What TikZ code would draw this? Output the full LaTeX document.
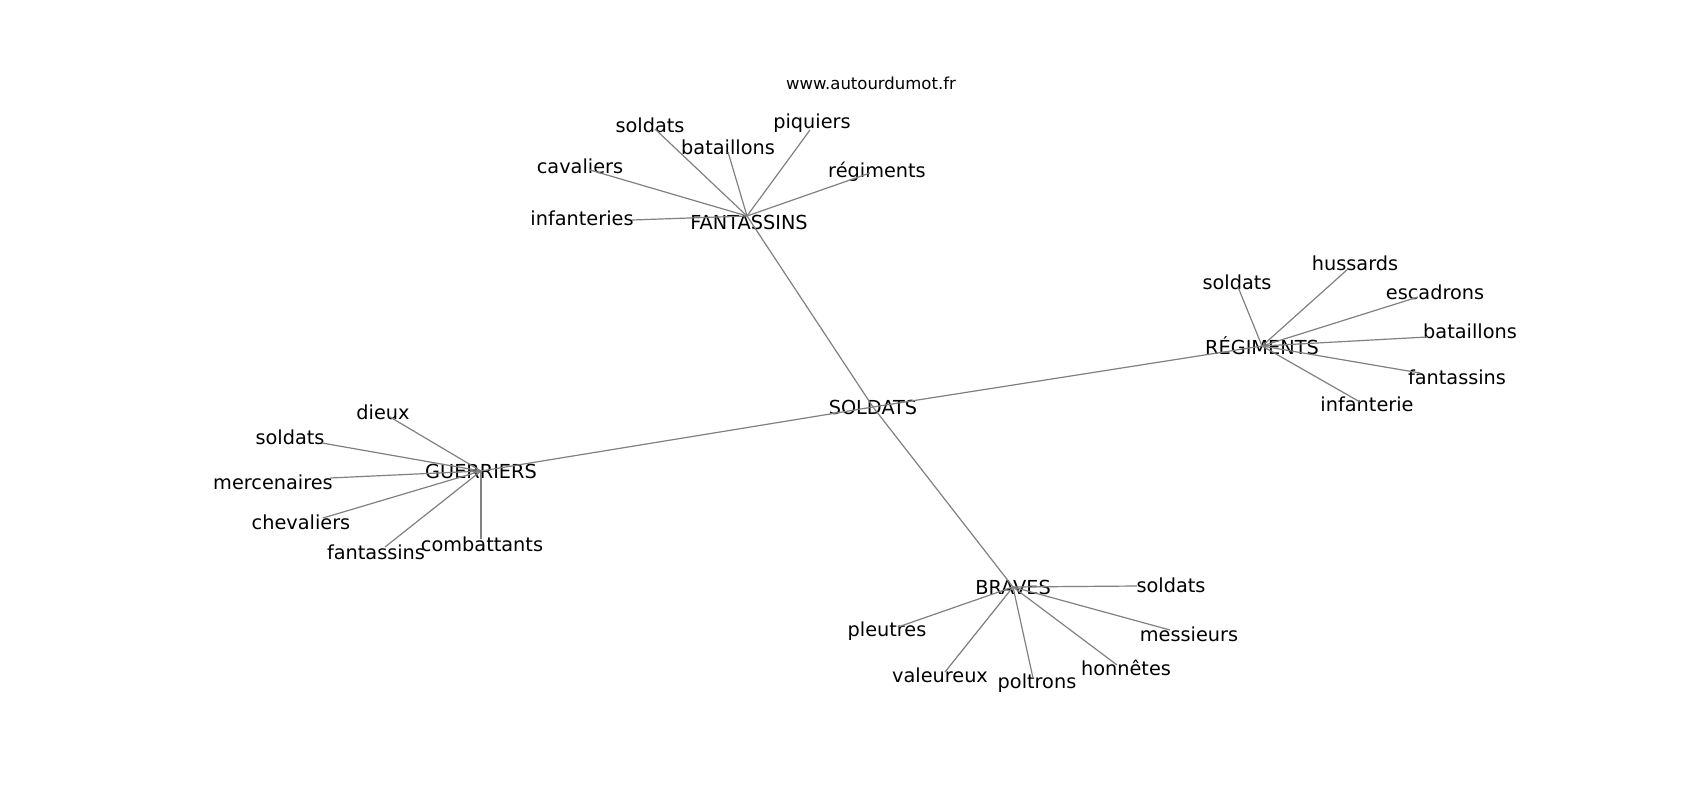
\documentclass[tikz,border=0pt]{standalone}
\usepackage{fontspec}
\setmainfont{DejaVu Sans}

\begin{document}
\begin{tikzpicture}[
  x=1pt, y=-1pt,
  word/.style={inner sep=0pt, font=\fontsize{19.3}{23}\selectfont},
  site/.style={inner sep=0pt, font=\fontsize{16.5}{20}\selectfont},
  edge/.style={draw=gray, line width=1.2pt}
]
\useasboundingbox (0,0) rectangle (1700,800);

\node[site] (url) at (871,83) {www.autourdumot.fr};

% Hubs
\node[word] (soldats) at (873,407) {SOLDATS};
\node[word] (fant) at (749,222) {FANTASSINS};
\coordinate (fant-c) at (747,216);
\node[word] (regi) at (1262,346) {RÉGIMENTS};
\node[word] (guer) at (481,471) {GUERRIERS};
\node[word] (braves) at (1013,587) {BRAVES};

% Top: around FANTASSINS
\node[word] (fsoldats) at (650,125) {soldats};
\node[word] (fbataillons) at (728,147) {bataillons};
\node[word] (fpiquiers) at (812,123) {piquiers};
\node[word] (fcavaliers) at (580,166) {cavaliers};
\node[word] (finfanteries) at (582,218) {infanteries};
\node[word] (fregiments) at (877,172) {régiments};
\coordinate (fsoldats-e) at (655,129);
\coordinate (fbataillons-e) at (728,152);
\coordinate (fpiquiers-e) at (810,130);
\coordinate (fcavaliers-e) at (590,170);
\coordinate (finfanteries-e) at (632,220);
\coordinate (fregiments-e) at (870,173);

% Right: around RÉGIMENTS
\node[word] (rsoldats) at (1237,282) {soldats};
\node[word] (rhussards) at (1355,263) {hussards};
\node[word] (rescadrons) at (1435,292) {escadrons};
\node[word] (rbataillons) at (1470,331) {bataillons};
\node[word] (rfantassins) at (1457,377) {fantassins};
\node[word] (rinfanterie) at (1367,404) {infanterie};
\coordinate (rsoldats-e) at (1238,287);
\coordinate (rhussards-e) at (1348,269);
\coordinate (rescadrons-e) at (1418,297);
\coordinate (rbataillons-e) at (1427,337);
\coordinate (rfantassins-e) at (1420,373);
\coordinate (rinfanterie-e) at (1360,402);

% Left: around GUERRIERS
\node[word] (gdieux) at (383,412) {dieux};
\node[word] (gsoldats) at (290,437) {soldats};
\node[word] (gmercenaires) at (273,482) {mercenaires};
\node[word] (gchevaliers) at (301,522) {chevaliers};
\node[word] (gfantassins) at (376,552) {fantassins};
\node[word] (gcombattants) at (482,544) {combattants};
\coordinate (gdieux-e) at (390,417);
\coordinate (gsoldats-e) at (322,443);
\coordinate (gmercenaires-e) at (330,478);
\coordinate (gchevaliers-e) at (323,518);
\coordinate (gfantassins-e) at (385,547);
\coordinate (gcombattants-e) at (481,539);

% Bottom: around BRAVES
\node[word] (bsoldats) at (1171,585) {soldats};
\node[word] (bpleutres) at (887,631) {pleutres};
\node[word] (bvaleureux) at (940,675) {valeureux};
\node[word] (bpoltrons) at (1037,683) {poltrons};
\node[word] (bhonnetes) at (1126,668) {honnêtes};
\node[word] (bmessieurs) at (1189,634) {messieurs};
\coordinate (bsoldats-e) at (1137,586);
\coordinate (bpleutres-e) at (898,627);
\coordinate (bvaleureux-e) at (945,672);
\coordinate (bpoltrons-e) at (1033,678);
\coordinate (bhonnetes-e) at (1117,665);
\coordinate (bmessieurs-e) at (1170,630);

\draw[edge] (soldats.center) -- (fant-c);
\draw[edge] (soldats.center) -- (regi.center);
\draw[edge] (soldats.center) -- (guer.center);
\draw[edge] (soldats.center) -- (braves.center);

\draw[edge] (fant-c) -- (fsoldats-e);
\draw[edge] (fant-c) -- (fbataillons-e);
\draw[edge] (fant-c) -- (fpiquiers-e);
\draw[edge] (fant-c) -- (fcavaliers-e);
\draw[edge] (fant-c) -- (finfanteries-e);
\draw[edge] (fant-c) -- (fregiments-e);

\draw[edge] (regi.center) -- (rsoldats-e);
\draw[edge] (regi.center) -- (rhussards-e);
\draw[edge] (regi.center) -- (rescadrons-e);
\draw[edge] (regi.center) -- (rbataillons-e);
\draw[edge] (regi.center) -- (rfantassins-e);
\draw[edge] (regi.center) -- (rinfanterie-e);

\draw[edge] (guer.center) -- (gdieux-e);
\draw[edge] (guer.center) -- (gsoldats-e);
\draw[edge] (guer.center) -- (gmercenaires-e);
\draw[edge] (guer.center) -- (gchevaliers-e);
\draw[edge] (guer.center) -- (gfantassins-e);
\draw[edge] (guer.center) -- (gcombattants-e);

\draw[edge] (braves.center) -- (bsoldats-e);
\draw[edge] (braves.center) -- (bpleutres-e);
\draw[edge] (braves.center) -- (bvaleureux-e);
\draw[edge] (braves.center) -- (bpoltrons-e);
\draw[edge] (braves.center) -- (bhonnetes-e);
\draw[edge] (braves.center) -- (bmessieurs-e);
\end{tikzpicture}
\end{document}
